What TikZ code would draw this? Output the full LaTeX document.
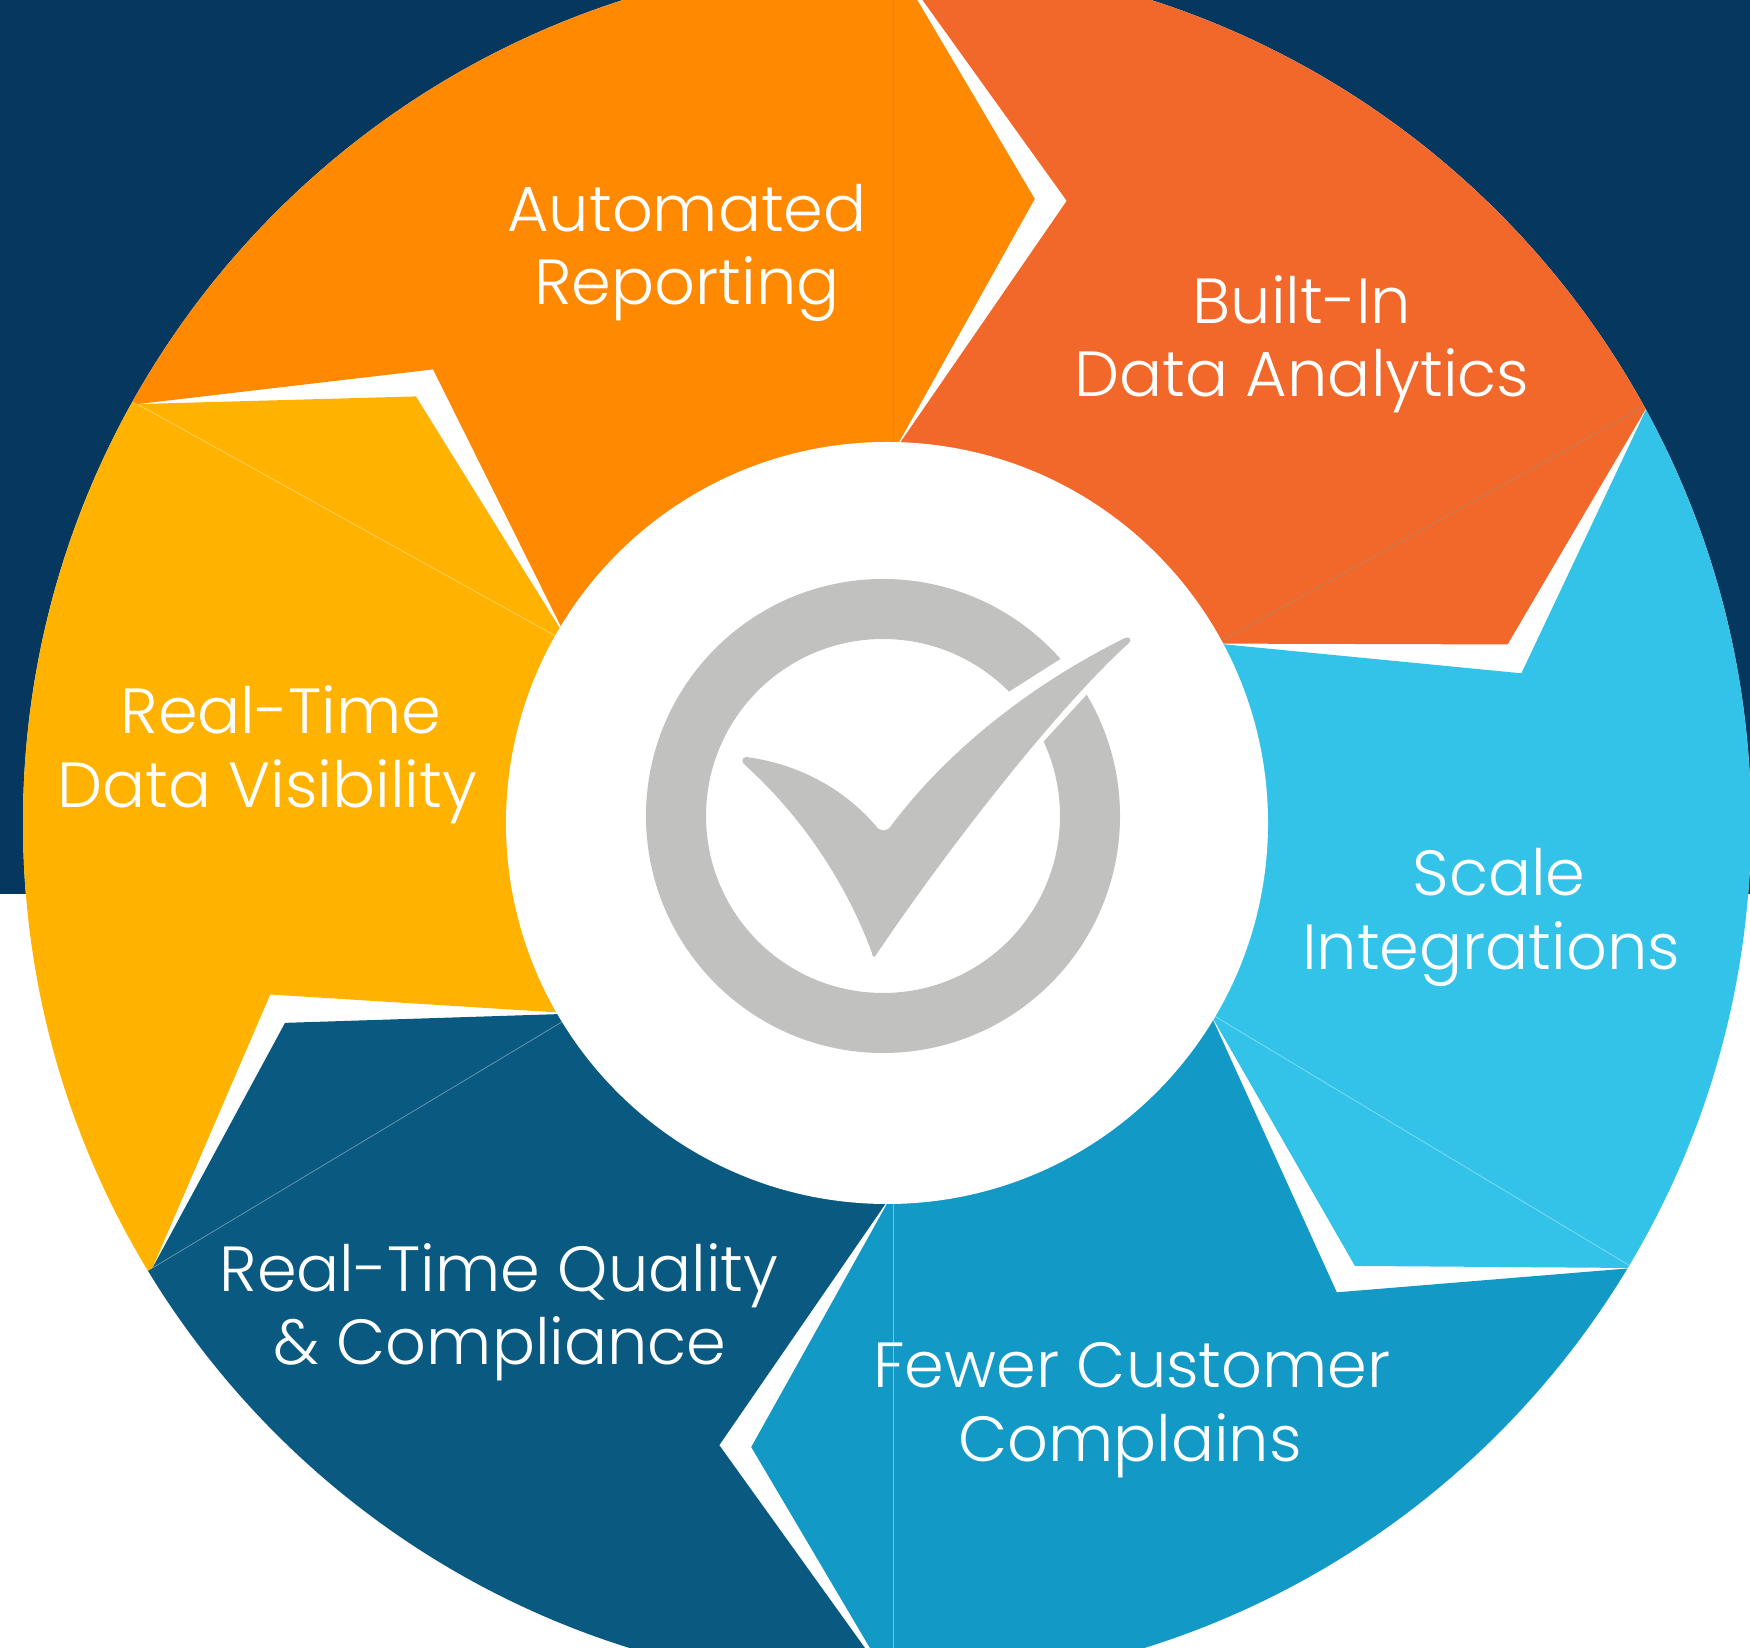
\documentclass[tikz,border=0pt]{standalone}
\usepackage{fontspec}
\IfFontExistsTF{Poppins Light}{\setmainfont{Poppins Light}}{\setmainfont{Poppins}}
\usetikzlibrary{calc}
\definecolor{bgnavy}{HTML}{05375F}
\definecolor{cOrange}{HTML}{FF8900}
\definecolor{cRed}{HTML}{F2682A}
\definecolor{cLight}{HTML}{33C3E9}
\definecolor{cMid}{HTML}{1299C6}
\definecolor{cDark}{HTML}{095981}
\definecolor{cYellow}{HTML}{FFB300}
\definecolor{iconGray}{HTML}{C1C1BF}
% #1 = angle of the counter-clockwise boundary, #2 = angle of the clockwise boundary, #3 = colour
\newcommand\segpiece[3]{%
  \fill[#3] ($(S)+(#1:370)$) -- ($(S)+(#1-15.6:646)$) -- ($(S)+(#1:864)$)
    -- ($(S)+(#1:1250)$) -- ($(S)+({(#1+#2)/2}:1350)$) -- ($(S)+(#2:1250)$)
    -- ($(S)+(#2:864)$) -- ($(S)+(#2-12.8:640)$) -- ($(S)+(#2:370)$)
    -- (S) -- cycle;}
\newcommand\seamline[2]{%
  \draw[#2, line width=0.35pt] ($(S)+(#1:372)$) -- ($(S)+(#1:864)$);}
\tikzset{lbl/.style={text=white, inner sep=0pt, anchor=base,
  font=\fontsize{31.9pt}{38pt}\selectfont}}
\begin{document}
\begin{tikzpicture}[x=0.5pt,y=0.5pt]
\useasboundingbox (0,0) rectangle (1750,1648);
\clip (0,0) rectangle (1750,1648);
\fill[white] (0,0) rectangle (1750,1648);
\fill[bgnavy] (0,754) rectangle (1750,1648);
\coordinate (O) at (887,825);
\coordinate (S) at (893,825);
\coordinate (I) at (883,832);
\fill[white] (O) circle (864);
\begin{scope}
  \clip (O) circle (864);
  \segpiece{151}{90}{cOrange}
  \segpiece{90}{29}{cRed}
  \segpiece{29}{-31}{cLight}
  \segpiece{-31}{-90}{cMid}
  \segpiece{-90}{-149}{cDark}
  \segpiece{-149}{-209}{cYellow}
  \seamline{90}{cOrange!70!gray}
  \seamline{29}{cRed!70!cLight}
  \seamline{-31}{cLight!60!white}
  \seamline{-90}{cMid!60!white}
  \seamline{-149}{cDark!60!white}
  \seamline{151}{cYellow!60!white}
\end{scope}
\fill[white] (O) circle (381);
% check icon
\fill[iconGray, even odd rule] (I) circle (237) (I) circle (177);
\fill[white] (1092,1009) -- (982,939) -- (1020,881) -- (1111,980) -- cycle;
\fill[iconGray] (746,891) .. controls (800,884) and (845,858) .. (876,822)
  .. controls (880,816) and (887,816) .. (891,822)
  .. controls (940,888) and (1020,958) .. (1125,1010)
  .. controls (1130,1012) and (1132,1008) .. (1129,1005)
  .. controls (1060,943) and (950,803) .. (876,693)
  .. controls (875,690) and (872,691) .. (872,695)
  .. controls (845,768) and (800,833) .. (746,882)
  .. controls (741,886) and (741,890) .. cycle;
% labels
\node[lbl] (autoA) at (687,1416) {Automated};
\node[lbl] (autoB) at (687,1343) {Reporting};
\node[lbl] (builtA) at (1302,1324) {Built-In};
\node[lbl] (builtB) at (1302,1251) {Data Analytics};
\node[lbl] (rtA) at (281,914) {Real-Time};
\node[lbl] (rtB) at (267,840) {Data Visibility};
\node[lbl] (scA) at (1499,752) {Scale};
\node[lbl] (scB) at (1491,678) {Integrations};
\node[lbl] (qA) at (499,356) {Real-Time Quality};
\node[lbl] (qB) at (500,283) {\& Compliance};
\node[lbl] (fA) at (1132,260) {Fewer Customer};
\node[lbl] (fB) at (1130,186) {Complains};
\end{tikzpicture}
\end{document}
